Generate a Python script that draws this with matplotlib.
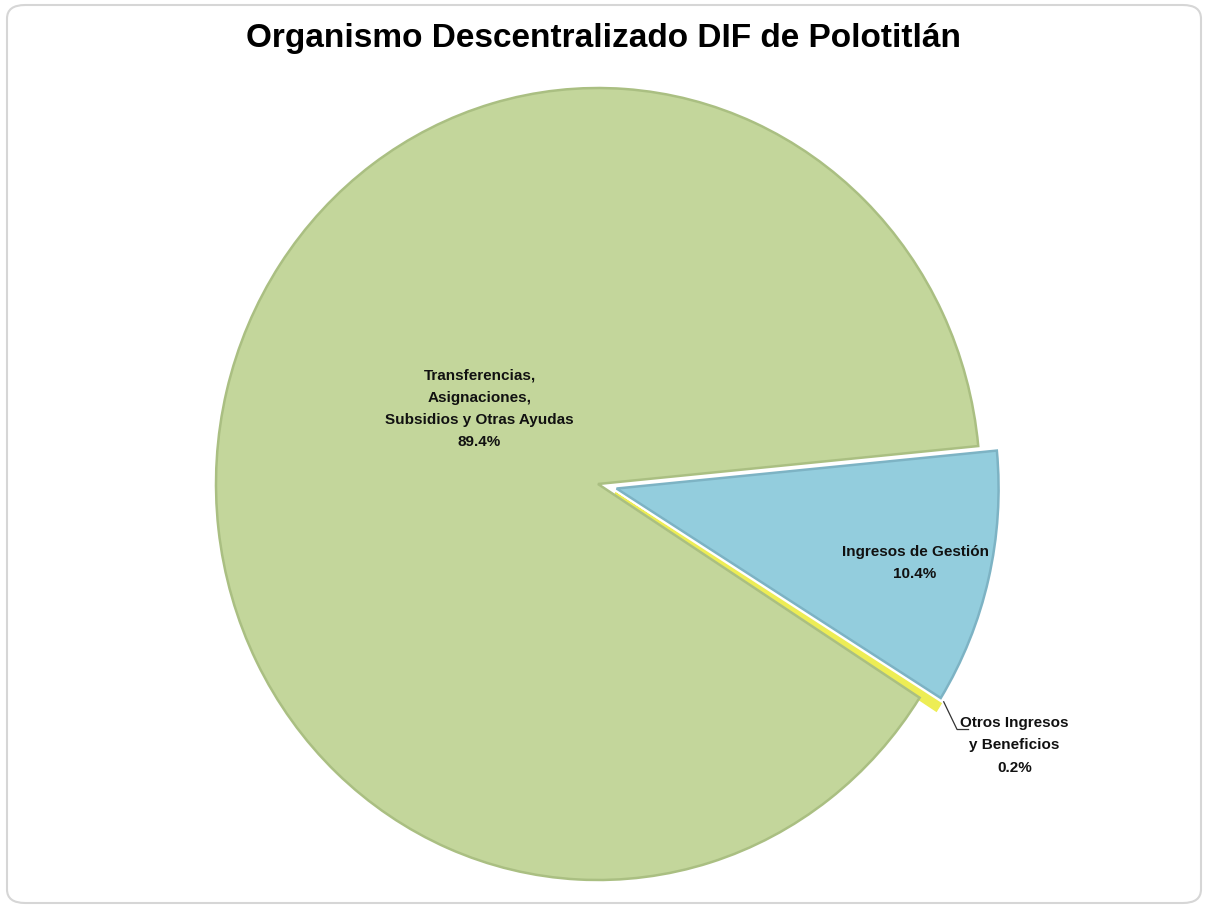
import matplotlib.pyplot as plt
from matplotlib.patches import FancyBboxPatch

labels = ['Ingresos de Gestión', 'Otros Ingresos\ny Beneficios',
          'Transferencias,\nAsignaciones,\nSubsidios y Otras Ayudas']
shares = [10.4, 0.2, 89.4]
colors = ['#93CDDD', '#F5F56E', '#C3D69B']
edges = ['#7DB3C4', '#EDED55', '#AABF82']

plt.rcParams['font.family'] = ['Liberation Sans', 'DejaVu Sans']

W, H = 1206, 909
fig = plt.figure(figsize=(W / 100, H / 100), dpi=100)

# rounded frame, kept behind the pie
fig.patches.append(FancyBboxPatch((7 / W, 6 / H), 1194 / W, 898 / H,
                                  boxstyle='round,pad=0,rounding_size=0.015',
                                  transform=fig.transFigure, facecolor='white',
                                  edgecolor='#D6D6D6', lw=1.5, zorder=-1))

# pie axes: centre (598, 484) px, rx 382, ry 396
cx, cy, rx, ry, lim = 598, 484, 382, 396, 1.2
ax = fig.add_axes([(cx - lim * rx) / W, 1 - (cy + lim * ry) / H,
                   2 * lim * rx / W, 2 * lim * ry / H])
ax.patch.set_alpha(0)
wedges, _ = ax.pie(shares, colors=colors, startangle=5.5, counterclock=False,
                   explode=[0.05, 0.05, 0.0],
                   wedgeprops=dict(linewidth=1.8))
for w, e in zip(wedges, edges):
    w.set_edgecolor(e)
wedges[1].set_linewidth(4)
ax.set_aspect('auto')
ax.set_xlim(-lim, lim)
ax.set_ylim(-lim, lim)
ax.axis('off')

tkw = dict(ha='center', va='center', fontsize=11, fontweight='bold',
           linespacing=1.75, color='#111111')
ax.text(-0.31, 0.19, labels[2] + '\n%.1f%%' % shares[2], **tkw)
ax.text(0.83, -0.2, labels[0] + '\n%.1f%%' % shares[0], **tkw)
ax.text(1.09, -0.66, labels[1] + '\n%.1f%%' % shares[1], **tkw)
ax.plot([0.905, 0.94, 0.97], [-0.55, -0.62, -0.62], color='#333333', lw=0.9)

fig.text(0.5, 1 - 38 / H, 'Organismo Descentralizado DIF de Polotitlán',
         ha='center', va='center', fontsize=24, fontweight='bold')

fig.savefig('out.png', dpi=100)
